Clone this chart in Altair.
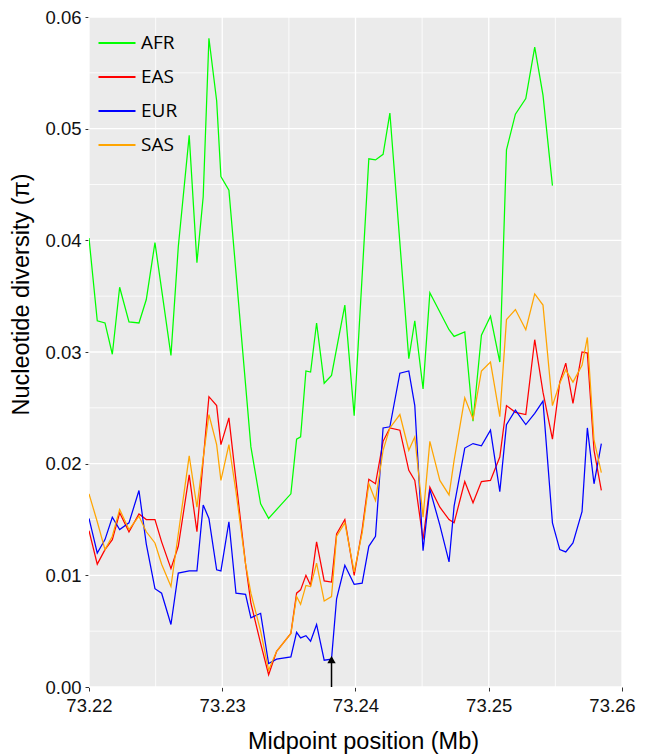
import altair as alt
import pandas as pd

# shared window midpoints (Mb) for EAS / EUR / SAS
pos = [73.2200, 73.22062, 73.2212, 73.22175, 73.2223, 73.2230, 73.22375, 73.2243, 73.22495, 73.22545,
       73.22615, 73.2267, 73.22752, 73.2281, 73.22857, 73.2290, 73.22958, 73.2299, 73.2305, 73.23103,
       73.23175, 73.23215, 73.23288, 73.23348, 73.23408, 73.23515, 73.23558, 73.23588, 73.23628, 73.23663,
       73.23708, 73.23765, 73.2382, 73.23858, 73.2392, 73.2399, 73.2405, 73.2410, 73.2415, 73.24207,
       73.24258, 73.24333, 73.2440, 73.24445, 73.24507, 73.24558, 73.24633, 73.24702, 73.2474, 73.2482,
       73.24882, 73.24945, 73.25013, 73.25083, 73.25133, 73.2520, 73.25278, 73.25345, 73.25407, 73.25478,
       73.25533, 73.25578, 73.25632, 73.2570, 73.2574, 73.2579, 73.25845]

eur = [0.0151, 0.0120, 0.0132, 0.0152, 0.0141, 0.0147, 0.0176, 0.0128, 0.0088, 0.0084,
       0.0056, 0.0102, 0.0104, 0.0104, 0.0163, 0.0151, 0.0105, 0.0104, 0.0148, 0.0084,
       0.0083, 0.0062, 0.0066, 0.0021, 0.0025, 0.0027, 0.0049, 0.0044, 0.0046, 0.0041,
       0.0056, 0.0024, 0.0025, 0.0079, 0.0109, 0.0092, 0.0093, 0.0126, 0.0135, 0.0232,
       0.0233, 0.0281, 0.0283, 0.0252, 0.0122, 0.0177, 0.0145, 0.0112, 0.0162, 0.0214,
       0.0218, 0.0216, 0.0230, 0.0175, 0.0235, 0.0248, 0.0235, 0.0245, 0.0256, 0.0147,
       0.0123, 0.0121, 0.0129, 0.0157, 0.0232, 0.0182, 0.0218]

eas = [0.0140, 0.0110, 0.0123, 0.0132, 0.0156, 0.0139, 0.0155, 0.0150, 0.0150, 0.0130,
       0.0106, 0.0126, 0.0190, 0.0139, 0.0203, 0.0260, 0.0252, 0.0217, 0.0241, 0.0185,
       0.0110, 0.0075, 0.0039, 0.0011, 0.0032, 0.0048, 0.0084, 0.0087, 0.0100, 0.0091,
       0.0130, 0.0095, 0.0094, 0.0137, 0.0150, 0.0100, 0.0141, 0.0186, 0.0182, 0.0220,
       0.0232, 0.0230, 0.0194, 0.0185, 0.0132, 0.0179, 0.0161, 0.0150, 0.0147, 0.0184,
       0.0165, 0.0184, 0.0185, 0.0206, 0.0252, 0.0246, 0.0244, 0.0311, 0.0264, 0.0222,
       0.0273, 0.0290, 0.0254, 0.0300, 0.0299, 0.0212, 0.0176]

sas = [0.0173, 0.0148, 0.0123, 0.0135, 0.0159, 0.0141, 0.0153, 0.0139, 0.0129, 0.0110,
       0.0090, 0.0137, 0.0207, 0.0161, 0.0205, 0.0244, 0.0217, 0.0185, 0.0217, 0.0175,
       0.0110, 0.0084, 0.0050, 0.0015, 0.0032, 0.0048, 0.0081, 0.0074, 0.0091, 0.0090,
       0.0111, 0.0077, 0.0081, 0.0135, 0.0147, 0.0103, 0.0138, 0.0182, 0.0167, 0.0212,
       0.0232, 0.0244, 0.0212, 0.0224, 0.0152, 0.0220, 0.0185, 0.0172, 0.0203, 0.0259,
       0.0240, 0.0283, 0.0291, 0.0242, 0.0329, 0.0338, 0.0320, 0.0352, 0.0342, 0.0252,
       0.0272, 0.0284, 0.0273, 0.0288, 0.0313, 0.0221, 0.0192]

# AFR has its own window midpoints
afr_pos = [73.2200, 73.22062, 73.2212, 73.22175, 73.2223, 73.2230, 73.22375, 73.2243, 73.22495, 73.22615,
           73.2267, 73.22752, 73.2281, 73.22857, 73.2290, 73.22958, 73.2299, 73.2305, 73.23215, 73.23288,
           73.23348, 73.23515, 73.23558, 73.23588, 73.23628, 73.23663, 73.23708, 73.23765, 73.2382, 73.2392,
           73.2399, 73.2410, 73.2415, 73.24207, 73.24258, 73.2440, 73.24445, 73.24507, 73.24558, 73.24702,
           73.2474, 73.2482, 73.24882, 73.24945, 73.25013, 73.25083, 73.25133, 73.2520, 73.25278, 73.25345,
           73.25407, 73.25478]
afr = [0.0402, 0.0328, 0.0326, 0.0298, 0.0358, 0.0327, 0.0326, 0.0347, 0.0398, 0.0297,
       0.0394, 0.0494, 0.0380, 0.0439, 0.0581, 0.0525, 0.0457, 0.0445, 0.0215, 0.0164,
       0.0151, 0.0173, 0.0222, 0.0224, 0.0283, 0.0282, 0.0326, 0.0272, 0.0279, 0.0342,
       0.0243, 0.0473, 0.0472, 0.0477, 0.0514, 0.0294, 0.0328, 0.0267, 0.0353, 0.0320,
       0.0314, 0.0318, 0.0238, 0.0315, 0.0332, 0.0291, 0.0481, 0.0513, 0.0527, 0.0573,
       0.0530, 0.0449]

populations = ["AFR", "EAS", "EUR", "SAS"]
colors = ["#00FF00", "#FF0000", "#0000FF", "#FFA500"]

# arrow marking the focal position
arrow_x = [73.2382]
arrow_y0 = [0.0]
arrow_y1 = [0.0022]
arrow_tip = [0.00245]

# axis ticks and grid positions
x_major = [73.22, 73.23, 73.24, 73.25, 73.26]
x_minor = [73.225, 73.235, 73.245, 73.255]
y_major = [0.0, 0.01, 0.02, 0.03, 0.04, 0.05, 0.06]
y_minor = [0.005, 0.015, 0.025, 0.035, 0.045, 0.055]

rows = []
for x, v in zip(afr_pos, afr):
    rows.append({"pos": x, "pi": v, "pop": "AFR"})
for name, vals in [("EAS", eas), ("EUR", eur), ("SAS", sas)]:
    for x, v in zip(pos, vals):
        rows.append({"pos": x, "pi": v, "pop": name})
df = pd.DataFrame(rows)

arrow_df = pd.DataFrame({"x": arrow_x, "y0": arrow_y0, "y1": arrow_y1, "tip": arrow_tip})
xgrid_df = pd.DataFrame({"g": x_major + x_minor,
                         "w": [1.3] * len(x_major) + [0.8] * len(x_minor)})
ygrid_df = pd.DataFrame({"g": y_major + y_minor,
                         "w": [1.3] * len(y_major) + [0.8] * len(y_minor)})

FONT = "Liberation Sans"

x_scale = alt.Scale(domain=[73.22, 73.26], nice=False, zero=False)
y_scale = alt.Scale(domain=[0, 0.06], nice=False, zero=False)

x_axis = alt.Axis(
    values=x_major, format=".2f",
    title="Midpoint position (Mb)",
    labelFlush=False, labelOverlap=False,
    labelOffset={"condition": {"test": "datum.value > 73.255", "value": -10}, "value": 0},
    grid=False,
    tickColor="#333333", tickSize=4, tickWidth=1,
    domain=False,
    labelFont=FONT, labelFontSize=18.5, labelColor="#111111", labelPadding=5,
    titleFont=FONT, titleFontSize=23.5, titleFontWeight="normal", titleColor="#000000",
    titleX=274, titleY=61, titleBaseline="alphabetic", titleAlign="center",
)
y_axis = alt.Axis(
    values=y_major, format=".2f",
    title="Nucleotide diversity (π)",
    labelFlush=False, labelOverlap=False,
    grid=False,
    tickColor="#333333", tickSize=4, tickWidth=1,
    domain=False,
    labelFont=FONT, labelFontSize=18.5, labelColor="#111111", labelPadding=4,
    titleFont=FONT, titleFontSize=23.5, titleFontWeight="normal", titleColor="#000000",
    titleX=-61, titleY=277, titleBaseline="alphabetic", titleAlign="center", titleAngle=270,
)

xgrid = alt.Chart(xgrid_df).mark_rule(color="white").encode(
    x=alt.X("g:Q", scale=x_scale, axis=x_axis),
    strokeWidth=alt.StrokeWidth("w:Q", scale=None, legend=None),
)
ygrid = alt.Chart(ygrid_df).mark_rule(color="white").encode(
    y=alt.Y("g:Q", scale=y_scale, axis=y_axis),
    strokeWidth=alt.StrokeWidth("w:Q", scale=None, legend=None),
)

lines = alt.Chart(df).mark_line(strokeWidth=1.25, clip=True).encode(
    x=alt.X("pos:Q", scale=x_scale),
    y=alt.Y("pi:Q", scale=y_scale),
    color=alt.Color(
        "pop:N",
        scale=alt.Scale(domain=populations, range=colors),
        legend=alt.Legend(
            title=None, orient="none", legendX=8, legendY=6,
            symbolType="stroke", symbolSize=1369, symbolStrokeWidth=2.2,
            labelFont="Open Sans", labelFontSize=19, labelColor="#000000",
            rowPadding=4, labelOffset=4,
        ),
    ),
    detail="pop:N",
)

arrow_line = alt.Chart(arrow_df).mark_rule(color="black", strokeWidth=1.5).encode(
    x=alt.X("x:Q", scale=x_scale),
    y=alt.Y("y0:Q", scale=y_scale),
    y2="y1:Q",
)
arrow_head = alt.Chart(arrow_df).mark_point(
    shape="triangle-up", filled=True, color="black", size=70, opacity=1
).encode(
    x=alt.X("x:Q", scale=x_scale),
    y=alt.Y("tip:Q", scale=y_scale),
)

chart = alt.layer(xgrid, ygrid, lines, arrow_line, arrow_head).properties(
    width=533, height=670,
    background="white",
    autosize=alt.AutoSizeParams(type="none"),
    padding={"left": 81, "top": 9, "right": 15, "bottom": 68},
).configure_view(
    fill="#EBEBEB", stroke=None,
)

chart.save("out.html", embed_options={"renderer": "svg", "actions": False})
